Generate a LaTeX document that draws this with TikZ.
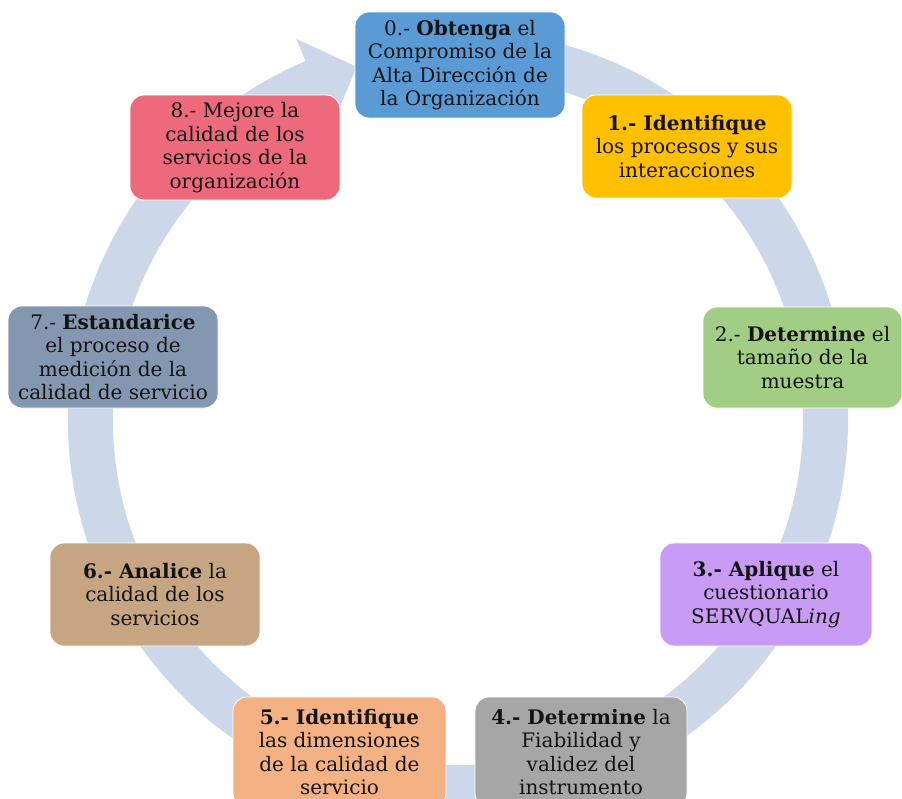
\documentclass[tikz,border=0pt]{standalone}
\usepackage{fontspec}
\setmainfont{DejaVu Serif}
\definecolor{ringblue}{RGB}{205,215,234}
\definecolor{cblue}{RGB}{91,155,213}
\definecolor{cgold}{RGB}{255,192,0}
\definecolor{cgreen}{RGB}{162,205,132}
\definecolor{cviolet}{RGB}{200,155,245}
\definecolor{cgrey}{RGB}{166,166,166}
\definecolor{corange}{RGB}{244,177,131}
\definecolor{ctan}{RGB}{198,165,131}
\definecolor{cslate}{RGB}{132,151,176}
\definecolor{cpink}{RGB}{237,106,125}
\tikzset{
  stepbox/.style={rectangle, rounded corners=14pt, draw=white, line width=0.8pt,
    inner sep=0pt, align=center, text=black!92,
    font=\fontsize{20}{23.5}\selectfont},
}
\begin{document}
\begin{tikzpicture}[x=1pt,y=1pt]
\useasboundingbox (0,-798) rectangle (902,0);
\fill[white] (0,-798) rectangle (902,0);

% circular arrow running clockwise round the steps
\begin{scope}[shift={(458,-420)}]
  \fill[ringblue] (80:390) arc[start angle=80, end angle=-247, radius=390]
    -- (-247:414) -- (-254:367.5) -- (-247:321) -- (-247:345)
    arc[start angle=-247, end angle=80, radius=345] -- cycle;
\end{scope}

% the nine steps
\node[stepbox, fill=cblue, minimum width=210, minimum height=106] (s0) at (460,-65)
  {0.- \textbf{Obtenga} el\\Compromiso de la\\Alta Dirección de\\la Organización};
\node[stepbox, fill=cgold, minimum width=210, minimum height=103] (s1) at (687,-146.5)
  {\textbf{1.- Identifique}\\los procesos y sus\\interacciones};
\node[stepbox, fill=cgreen, minimum width=199, minimum height=101] (s2) at (802.5,-357.5)
  {2.- \textbf{Determine} el\\tamaño de la\\muestra};
\node[stepbox, fill=cviolet, minimum width=212, minimum height=103] (s3) at (766,-594.5)
  {\textbf{3.- Aplique} el\\cuestionario\\SERVQUAL\textit{ing}};
\node[stepbox, fill=cgrey, minimum width=212, minimum height=110] (s4) at (581,-752)
  {\textbf{4.- Determine} la\\Fiabilidad y\\validez del\\instrumento};
\node[stepbox, fill=corange, minimum width=213, minimum height=110] (s5) at (339.5,-752)
  {\textbf{5.- Identifique}\\las dimensiones\\de la calidad de\\servicio};
\node[stepbox, fill=ctan, minimum width=210, minimum height=103] (s6) at (155,-594.5)
  {\textbf{6.- Analice} la\\calidad de los\\servicios};
\node[stepbox, fill=cslate, minimum width=210, minimum height=102] (s7) at (113,-357)
  {7.- \textbf{Estandarice}\\el proceso de\\medición de la\\calidad de servicio};
\node[stepbox, fill=cpink, minimum width=210, minimum height=105] (s8) at (235,-147.5)
  {8.- Mejore la\\calidad de los\\servicios de la\\organización};
\end{tikzpicture}
\end{document}
